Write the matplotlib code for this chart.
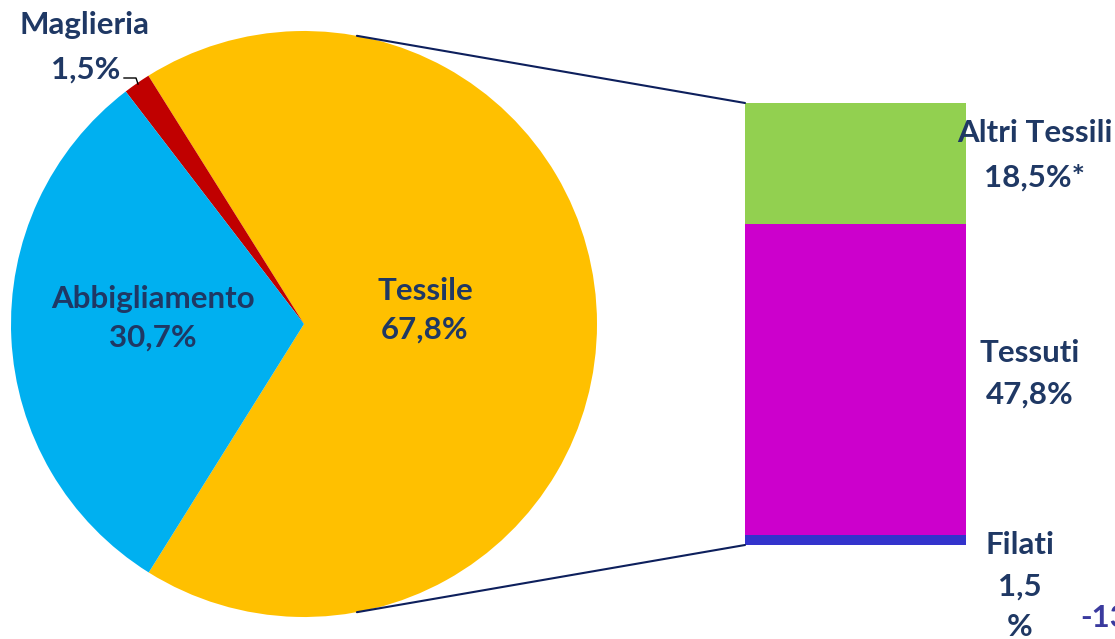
#pie of the textile sector with the "Tessile" share exploded into a bar

import numpy as np
import matplotlib.pyplot as plt
from matplotlib.patches import ConnectionPatch

plt.rcParams['font.family'] = ['Lato', 'DejaVu Sans']

pie_labels = ['Tessile', 'Maglieria', 'Abbigliamento']
pie_values = [67.8, 1.5, 30.7]
pie_text = ['67,8%', '1,5%', '30,7%']
pie_colors = ['#FFC000', '#C00000', '#00B0F0']

bar_labels = ['Filati', 'Tessuti', 'Altri Tessili']
bar_values = [1.5, 47.8, 18.5]
bar_colors = ['#3333CC', '#CC00CC', '#92D050']

text_col = '#1F3864'
line_col = '#0D1F5C'
fs = 22.5

W, H = 1115, 639
fig = plt.figure(figsize=(W / 100, H / 100), dpi=100)

# main axes in pixel units (y flipped so that 0 is bottom)
ax = fig.add_axes([0, 0, 1, 1])

cx, cy, r = 304, H - 324, 293
ax.pie(pie_values, colors=pie_colors, startangle=-122, counterclock=True,
       center=(cx, cy), radius=r, frame=True,
       wedgeprops=dict(linewidth=0))
ax.set_xlim(0, W)
ax.set_ylim(0, H)
ax.set_aspect('equal')
ax.axis('off')

ax.text(425, H - 310, f'{pie_labels[0]}\n{pie_text[0]}', ha='center', va='center',
        fontsize=fs, fontweight='bold', color=text_col, linespacing=1.47)
ax.text(153, H - 318, f'{pie_labels[2]}\n{pie_text[2]}', ha='center', va='center',
        fontsize=fs, fontweight='bold', color=text_col, linespacing=1.47)
ax.text(85, H - 25, pie_labels[1], ha='center', va='center',
        fontsize=fs, fontweight='bold', color=text_col)
ax.text(120, H - 70, pie_text[1], ha='right', va='center',
        fontsize=fs, fontweight='bold', color=text_col)
# leader line for Maglieria
ax.plot([124, 136, 138], [H - 78, H - 78, H - 84], color='black', lw=1)

# bar axes
bx0, bx1, by_top, by_bot = 745, 966, 103, 545
bax = fig.add_axes([bx0 / W, 1 - by_bot / H, (bx1 - bx0) / W, (by_bot - by_top) / H])
bottom = 0
for v, c in zip(bar_values, bar_colors):
    bax.bar(0, v, bottom=bottom, width=1, color=c, linewidth=0)
    bottom += v
bax.set_xlim(-0.5, 0.5)
bax.set_ylim(0, sum(bar_values))
bax.axis('off')

def lab(x, y, s, **kw):
    fig.text(x / W, 1 - y / H, s, ha='center', va='center', fontsize=fs,
             fontweight='bold', color=kw.pop('color', text_col), **kw)

lab(1035, 133, bar_labels[2])
lab(1035, 178, '18,5%*')
lab(1030, 353, bar_labels[1])
lab(1030, 395, '47,8%')
lab(1020, 545, bar_labels[0])
lab(1020, 587, '1,5')
lab(1020, 627, '%')
# label cut off at the right edge, as in the source
fig.text(1080 / W, 1 - 618 / H, '-13', ha='left', va='center',
         fontsize=fs, fontweight='bold', color='#3A3A9E')

# connector lines from the Tessile wedge to the bar
ang = np.deg2rad(79.6)
top_pt = (cx + r * np.cos(ang), cy + r * np.sin(ang))
bot_pt = (cx + r * np.cos(-ang), cy + r * np.sin(-ang))
for p, yb in [(top_pt, sum(bar_values)), (bot_pt, 0)]:
    con = ConnectionPatch(xyA=p, coordsA=ax.transData, xyB=(-0.5, yb),
                          coordsB=bax.transData, color=line_col, lw=1.5)
    fig.add_artist(con)

fig.savefig('out.png', dpi=100)
